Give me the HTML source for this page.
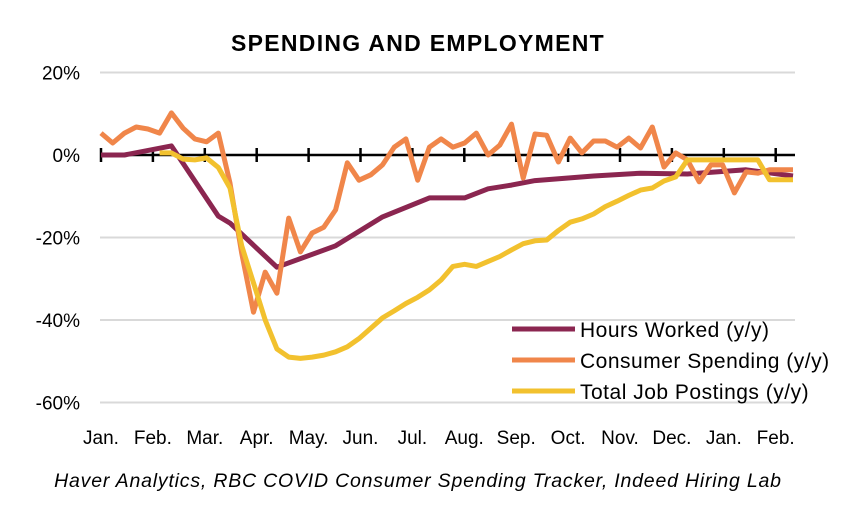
<!DOCTYPE html>
<html><head><meta charset="utf-8"><style>
body{margin:0;background:#fff;}
svg{display:block;font-family:"Liberation Sans",sans-serif;}
</style></head><body>
<svg id="chart" width="853" height="529">
<text x="418" y="51" text-anchor="middle" font-size="23" font-weight="bold" letter-spacing="1.3">SPENDING AND EMPLOYMENT</text>
<g id="grid"></g><g id="ylab"></g><g id="xlab"></g><g id="series"></g>
<g>
<line x1="512" y1="329" x2="575" y2="329" stroke="#8B2650" stroke-width="5"/>
<text x="580" y="337" font-size="21" letter-spacing="0.5">Hours Worked (y/y)</text>
<line x1="512" y1="360" x2="575" y2="360" stroke="#F0864A" stroke-width="5"/>
<text x="580" y="368" font-size="21" letter-spacing="0.5">Consumer Spending (y/y)</text>
<line x1="512" y1="391" x2="575" y2="391" stroke="#F2C12E" stroke-width="5"/>
<text x="580" y="399" font-size="21" letter-spacing="0.5">Total Job Postings (y/y)</text>
</g>
<text x="418" y="487" text-anchor="middle" font-size="19.5" font-style="italic" letter-spacing="0.8">Haver Analytics, RBC COVID Consumer Spending Tracker, Indeed Hiring Lab</text>
</svg>
<script>
const months=["Jan.","Feb.","Mar.","Apr.","May.","Jun.","Jul.","Aug.","Sep.","Oct.","Nov.","Dec.","Jan.","Feb."];
const yTicks=[20,0,-20,-40,-60];
const spending=[5.3,2.9,5.3,6.8,6.3,5.3,10.2,6.5,3.9,3.2,5.3,-6.8,-23.8,-38.1,-28.4,-33.5,-15.3,-23.5,-18.9,-17.5,-13.3,-1.9,-6.1,-4.8,-2.4,1.9,3.9,-6.1,1.9,3.9,1.9,2.9,5.3,0,2.4,7.5,-5.6,5.1,4.8,-1.7,4.1,0.5,3.4,3.4,1.9,4.1,1.7,6.8,-2.9,0.5,-1.2,-6.5,-2.4,-2.4,-9.2,-4.1,-4.4,-3.6,-3.6,-3.6];
const postingsStart=5;
const postings=[0.5,0.5,-1.0,-1.2,-0.7,-3,-8,-22,-31,-40,-47,-49,-49.3,-49,-48.5,-47.7,-46.5,-44.5,-42,-39.5,-37.8,-36,-34.5,-32.7,-30.3,-27,-26.5,-27,-25.8,-24.6,-23,-21.5,-20.8,-20.6,-18.3,-16.3,-15.5,-14.3,-12.5,-11.2,-9.8,-8.5,-8,-6.3,-5.3,-1.2,-1.2,-1.2,-1.2,-1.2,-1.2,-1.2,-6,-6,-6];
const hoursWeek=[0,2,6,10,11,15,20,24,28,31,33,35,37,42,46,50,55,59];
const hoursVal=[0,0,2.2,-14.8,-16.5,-27.2,-22,-15,-10.4,-10.4,-8.2,-7.3,-6.2,-5.1,-4.4,-4.6,-3.6,-5.1];
const X0=101,XSTEP=(793-101)/59,MSTEP=51.9;
function xw(i){return X0+i*XSTEP;}
function xm(i){return X0+i*MSTEP;}
function y(v){return 155-v*82.5/20;}
const NS="http://www.w3.org/2000/svg";
function mk(tag,attrs,parent,text){const e=document.createElementNS(NS,tag);for(const k in attrs)e.setAttribute(k,attrs[k]);if(text!==undefined)e.textContent=text;document.getElementById(parent).appendChild(e);return e;}
yTicks.forEach(t=>{
 if(t!==0){const g=mk("line",{x1:100,x2:795,y1:y(t),y2:y(t),stroke:"#d9d9d9","stroke-width":2},"grid");
 
 }
 const l=mk("text",{x:80,y:y(t)+7,"text-anchor":"end","font-size":19},"ylab",t+"%");
 
 
});
const ax=mk("line",{x1:100,x2:795,y1:y(0),y2:y(0),stroke:"#000","stroke-width":2.5},"grid");


months.forEach((m,i)=>{
 const tk=mk("line",{x1:xm(i),x2:xm(i),y1:y(0)-7,y2:y(0)+7,stroke:"#000","stroke-width":2.5},"grid");
 
 
 const l=mk("text",{x:xm(i),y:444,"text-anchor":"middle","font-size":19},"xlab",m);
 
 
});
function line(pts,color,name){
 const p=mk("polyline",{points:pts.map(q=>q[0].toFixed(1)+","+q[1].toFixed(1)).join(" "),fill:"none",stroke:color,"stroke-width":5,"stroke-linejoin":"round"},"series");
 
 
}
line(hoursWeek.map((w,i)=>[xw(w),y(hoursVal[i])]),"#8B2650","hours-worked-line");
line(spending.map((v,i)=>[xw(i),y(v)]),"#F0864A","consumer-spending-line");
line(postings.map((v,i)=>[xw(i+postingsStart),y(v)]),"#F2C12E","job-postings-line");
</script>
</body></html>
